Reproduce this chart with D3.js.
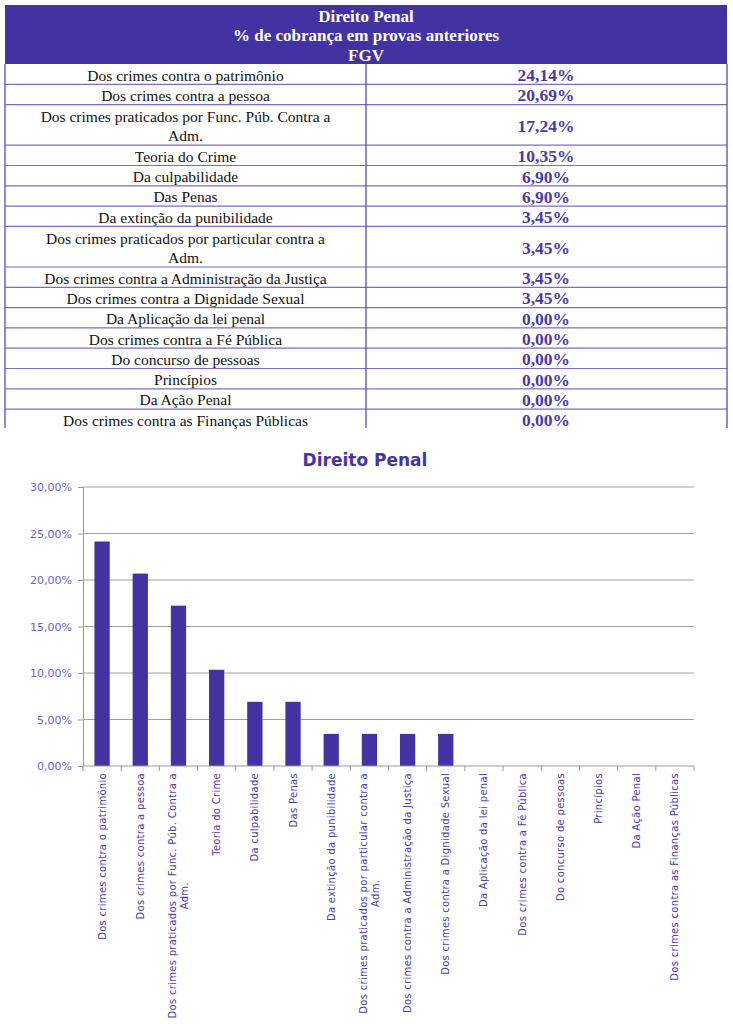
<!DOCTYPE html>
<html><head><meta charset="utf-8">
<script src="https://cdn.jsdelivr.net/npm/d3@7"></script>
<style>body{margin:0;background:#fff}svg{display:block}</style>
</head><body>
<svg id="c" width="733" height="1024"></svg>
<script>
const headerLines = ["Direito Penal", "% de cobrança em provas anteriores", "FGV"];
const categories = [
  "Dos crimes contra o patrimônio",
  "Dos crimes contra a pessoa",
  "Dos crimes praticados por Func. Púb. Contra a Adm.",
  "Teoria do Crime",
  "Da culpabilidade",
  "Das Penas",
  "Da extinção da punibilidade",
  "Dos crimes praticados por particular contra a Adm.",
  "Dos crimes contra a Administração da Justiça",
  "Dos crimes contra a Dignidade Sexual",
  "Da Aplicação da lei penal",
  "Dos crimes contra a Fé Pública",
  "Do concurso de pessoas",
  "Princípios",
  "Da Ação Penal",
  "Dos crimes contra as Finanças Públicas"
];
const values = [24.14, 20.69, 17.24, 10.35, 6.90, 6.90, 3.45, 3.45, 3.45, 3.45, 0, 0, 0, 0, 0, 0];
const yTicks = [0, 5, 10, 15, 20, 25, 30];
const chartTitle = "Direito Penal";

const purple = "#4232a2";
const fmt = v => v.toFixed(2).replace(".", ",") + "%";
const wrap = s => {
  if (s.length <= 45) return [s];
  const i = s.lastIndexOf(" ");
  return [s.slice(0, i), s.slice(i + 1)];
};

const svg = d3.select("#c");

// ---------- Table ----------
const tL = 5, tR = 727, tMid = 366, hTop = 5, hBot = 64, unit = 20.3, tEnd = 428;
svg.append("rect").attr("x", tL).attr("y", hTop).attr("width", tR - tL).attr("height", hBot - hTop).attr("fill", purple);
svg.append("g").selectAll("text").data(headerLines).join("text")
  .attr("x", (tL + tR) / 2).attr("y", (d, i) => 21.5 + i * 19.5)
  .attr("text-anchor", "middle").attr("fill", "#fff")
  .attr("font-family", "Liberation Serif").attr("font-weight", "bold").attr("font-size", 17)
  .text(d => d);

const rows = [];
let yy = hBot;
categories.forEach((c, i) => {
  const lines = wrap(c);
  const h = unit * lines.length;
  rows.push({c, lines, y0: yy, h, v: values[i]});
  yy += h;
});
const tg = svg.append("g");
rows.forEach((r, i) => {
  if (i > 0) tg.append("line").attr("x1", tL).attr("x2", tR).attr("y1", r.y0).attr("y2", r.y0).attr("stroke", "#7a6cc8").attr("stroke-width", 1.2);
  r.lines.forEach((ln, j) => {
    tg.append("text").attr("x", (tL + tMid) / 2)
      .attr("y", r.y0 + r.h / 2 + (j - (r.lines.length - 1) / 2) * 19 + 6.5)
      .attr("text-anchor", "middle").attr("fill", "#111")
      .attr("font-family", "Liberation Serif").attr("font-size", 15.5).text(ln);
  });
  tg.append("text").attr("x", 546).attr("y", r.y0 + r.h / 2 + 7)
    .attr("text-anchor", "middle").attr("fill", "#4a3aa8")
    .attr("font-family", "Liberation Serif").attr("font-weight", "bold").attr("font-size", 17.5)
    .text(fmt(r.v));
});
[tL, tMid, tR].forEach(x => tg.append("line").attr("x1", x).attr("x2", x).attr("y1", hBot).attr("y2", tEnd).attr("stroke", "#5a4ab8").attr("stroke-width", 1.3));

// ---------- Chart ----------
const pL = 83, pR = 694, pT = 487, pB = 766;
const x = d3.scaleBand().domain(categories).range([pL, pR]).paddingInner(0.6).paddingOuter(0.3);
const y = d3.scaleLinear().domain([0, 30]).range([pB, pT]);

svg.append("text").attr("x", 365).attr("y", 466).attr("text-anchor", "middle")
  .attr("fill", "#4535a8").attr("font-family", "DejaVu Sans").attr("font-weight", "bold").attr("font-size", 17)
  .text(chartTitle);

const gy = svg.append("g").attr("transform", `translate(${pL},0)`)
  .call(d3.axisLeft(y).tickValues(yTicks).tickSize(5).tickFormat(fmt));
gy.select(".domain").attr("stroke", "#999");
gy.selectAll(".tick line").attr("stroke", "#999");
gy.selectAll(".tick text").attr("fill", "#6e62cc").attr("font-family", "DejaVu Sans").attr("font-size", 11).attr("x", -11);

svg.append("g").selectAll("line").data(yTicks.filter(d => d > 0)).join("line")
  .attr("x1", pL).attr("x2", pR).attr("y1", d => y(d)).attr("y2", d => y(d))
  .attr("stroke", "#a0a0a0").attr("stroke-width", 1);

svg.append("g").selectAll("rect").data(categories).join("rect")
  .attr("x", d => x(d)).attr("width", x.bandwidth())
  .attr("y", (d, i) => y(values[i])).attr("height", (d, i) => y(0) - y(values[i]))
  .attr("fill", purple);

// x axis baseline and boundary ticks
const step = x.step();
svg.append("line").attr("x1", pL).attr("x2", pR).attr("y1", pB).attr("y2", pB).attr("stroke", "#999");
svg.append("g").selectAll("line").data(d3.range(categories.length + 1)).join("line")
  .attr("x1", i => pL + i * step).attr("x2", i => pL + i * step)
  .attr("y1", pB).attr("y2", pB + 5).attr("stroke", "#999");

const lg = svg.append("g");
categories.forEach(c => {
  const lines = wrap(c);
  const cx = x(c) + x.bandwidth() / 2;
  const g = lg.append("g").attr("transform", `translate(${cx},${pB + 7}) rotate(-90)`);
  const t0 = g.append("text").attr("text-anchor", "end")
    .attr("x", 0).attr("y", (0 - (lines.length - 1) / 2) * 12 + 3.5)
    .attr("fill", "#4a3cb0").attr("font-family", "DejaVu Sans").attr("font-size", 10)
    .attr("letter-spacing", 0.3).text(lines[0]);
  if (lines.length > 1) {
    const w = t0.node().getComputedTextLength();
    g.append("text").attr("text-anchor", "middle")
      .attr("x", -w / 2).attr("y", (1 - (lines.length - 1) / 2) * 12 + 3.5)
      .attr("fill", "#4a3cb0").attr("font-family", "DejaVu Sans").attr("font-size", 10)
      .attr("letter-spacing", 0.3).text(lines[1]);
  }
});
</script>
</body></html>
